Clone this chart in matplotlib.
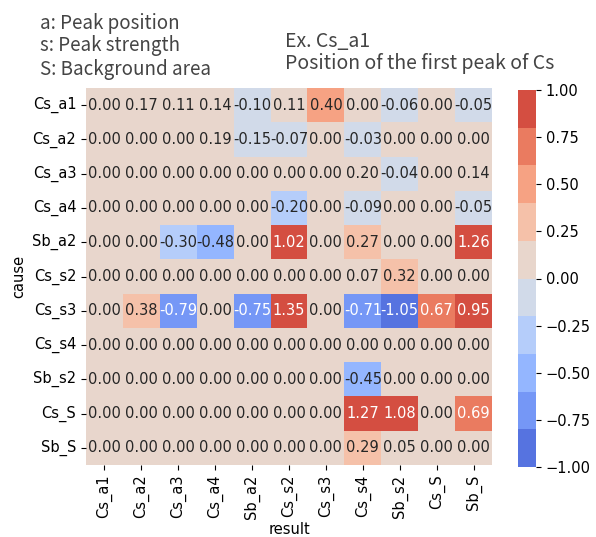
import numpy as np
import pandas as pd
import seaborn as sns
import matplotlib
matplotlib.use("Agg")
import matplotlib.pyplot as plt

plt.rcParams["font.family"] = ["DejaVu Sans"]

# row / column names
causes = ["Cs_a1", "Cs_a2", "Cs_a3", "Cs_a4", "Sb_a2", "Cs_s2",
          "Cs_s3", "Cs_s4", "Sb_s2", "Cs_S", "Sb_S"]
results = ["Cs_a1", "Cs_a2", "Cs_a3", "Cs_a4", "Sb_a2", "Cs_s2",
           "Cs_s3", "Cs_s4", "Sb_s2", "Cs_S", "Sb_S"]

# one list per cause row
cs_a1 = [0.00, 0.17, 0.11, 0.14, -0.10, 0.11, 0.40, 0.00, -0.06, 0.00, -0.05]
cs_a2 = [0.00, 0.00, 0.00, 0.19, -0.15, -0.07, 0.00, -0.03, 0.00, 0.00, 0.00]
cs_a3 = [0.00, 0.00, 0.00, 0.00, 0.00, 0.00, 0.00, 0.198, -0.04, 0.00, 0.14]
cs_a4 = [0.00, 0.00, 0.00, 0.00, 0.00, -0.204, 0.00, -0.09, 0.00, 0.00, -0.05]
sb_a2 = [0.00, 0.00, -0.30, -0.48, 0.00, 1.02, 0.00, 0.27, 0.00, 0.00, 1.26]
cs_s2 = [0.00, 0.00, 0.00, 0.00, 0.00, 0.00, 0.00, 0.07, 0.32, 0.00, 0.00]
cs_s3 = [0.00, 0.38, -0.79, 0.00, -0.75, 1.35, 0.00, -0.71, -1.05, 0.67, 0.95]
cs_s4 = [0.00, 0.00, 0.00, 0.00, 0.00, 0.00, 0.00, 0.00, 0.00, 0.00, 0.00]
sb_s2 = [0.00, 0.00, 0.00, 0.00, 0.00, 0.00, 0.00, -0.45, 0.00, 0.00, 0.00]
cs_S = [0.00, 0.00, 0.00, 0.00, 0.00, 0.00, 0.00, 1.27, 1.08, 0.00, 0.69]
sb_S = [0.00, 0.00, 0.00, 0.00, 0.00, 0.00, 0.00, 0.29, 0.05, 0.00, 0.00]

df = pd.DataFrame([cs_a1, cs_a2, cs_a3, cs_a4, sb_a2, cs_s2,
                   cs_s3, cs_s4, sb_s2, cs_S, sb_S],
                  index=causes, columns=results)

W, H = 596, 537
fig = plt.figure(figsize=(W / 100, H / 100), dpi=100)
ax = fig.add_axes([86 / W, 1 - 465 / H, 406 / W, 377 / H])
cax = fig.add_axes([518 / W, 1 - 467 / H, 18 / W, 377 / H])

fs = 10.5
sns.heatmap(df, annot=True, fmt=".2f", cmap=sns.color_palette("coolwarm", 10),
            vmin=-1, vmax=1, ax=ax, cbar_ax=cax, annot_kws={"fontsize": fs})

ax.set_xticklabels(results, rotation=90, fontsize=fs)
ax.set_yticklabels(causes, rotation=0, fontsize=fs)
ax.set_xlabel("result", fontsize=fs, labelpad=2)
ax.set_ylabel("cause", fontsize=fs)
cax.tick_params(labelsize=fs)

# notes pasted above the map
fnt = ["Noto Sans CJK JP", "DejaVu Sans"]
tc = "#444444"
fig.text(40 / W, 1 - 24 / H, "a: Peak position", fontsize=13.5, family=fnt, va="center", color=tc)
fig.text(40 / W, 1 - 46 / H, "s: Peak strength", fontsize=13.5, family=fnt, va="center", color=tc)
fig.text(40 / W, 1 - 69 / H, "S: Background area", fontsize=13.5, family=fnt, va="center", color=tc)
fig.text(285 / W, 1 - 42 / H, "Ex. Cs_a1", fontsize=14, family=fnt, va="center", color=tc)
fig.text(285 / W, 1 - 63 / H, "Position of the first peak of Cs", fontsize=14, family=fnt,
         va="center", color=tc)

fig.savefig("out.png", dpi=100)
